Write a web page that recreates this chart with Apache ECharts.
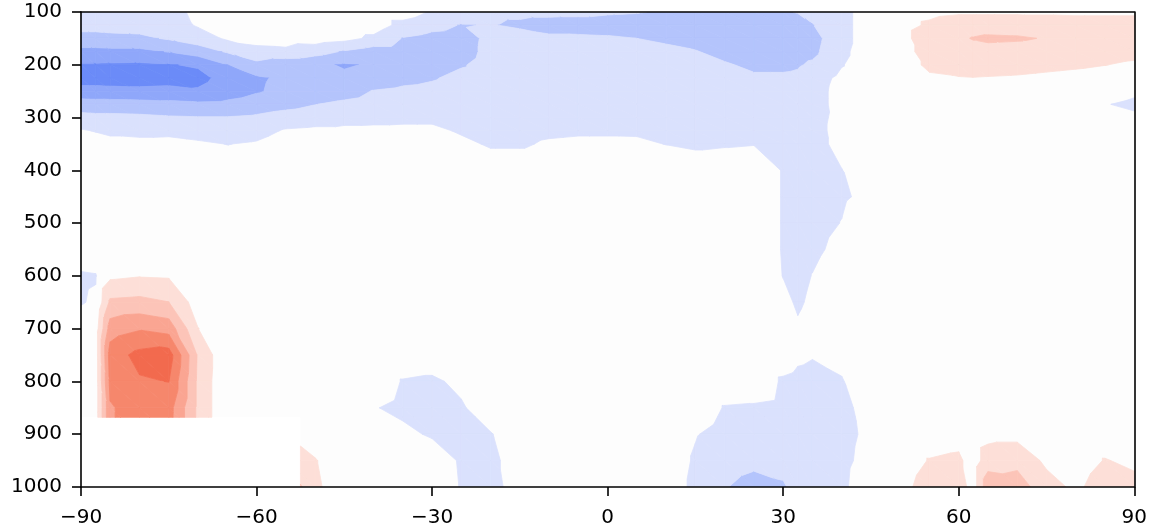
<!DOCTYPE html>
<html>
<head>
<meta charset="utf-8">
<script src="https://cdn.jsdelivr.net/npm/echarts@6/dist/echarts.min.js"></script>
<style>
html,body{margin:0;padding:0;background:#ffffff;}
#chart{width:1150px;height:528px;}
</style>
</head>
<body>
<div id="chart"></div>
<script>
// ---- grid coordinates (latitude columns, pressure rows) ----
const lats = [-90,-87.5,-85,-80,-75,-70,-65,-60,-55,-50,-45,-40,-35,-30,-25,-20,-15,-10,-5,0,5,10,15,20,25,30,32.5,35,40,45,50,55,60,62.5,65,70,75,80,85,90];
const pressures = [100,125,150,175,200,225,250,275,300,325,350,400,450,500,550,600,650,700,750,800,850,900,950,1000];

// ---- field values, one array per pressure level (columns follow lats) ----
const p100  = [-1.0,-1.0,-1.0,-1.0,-0.8,-0.3,0,0,0,0,0,0,0,-0.6,-0.9,-1.3,-1.3,-1.3,-1.3,-1.4,-1.45,-1.6,-1.7,-1.8,-1.8,-1.6,-1.45,-1.25,-0.8,0,0,0.2,0.35,0.35,0.35,0.35,0.35,0.3,0.3,0.3];
const p125  = [-1.2,-1.2,-1.15,-1.1,-1.0,-0.4,0,0,0,0,0,0,-0.8,-1.2,-1.55,-1.45,-1.65,-1.8,-1.85,-1.85,-1.9,-2.0,-2.05,-2.1,-2.15,-2.0,-1.9,-1.55,-0.8,0,0,0.7,1.1,1.1,1.1,1.1,1.0,1.0,1.0,1.0];
const p150  = [-1.8,-1.8,-1.75,-1.7,-1.4,-1.0,-0.35,-0.2,-0.1,0,-0.2,-0.7,-1.55,-1.8,-1.9,-1.25,-1.1,-1.35,-1.35,-1.4,-1.5,-1.65,-1.85,-2.0,-2.1,-2.05,-2.0,-1.86,-0.8,0,0,1.3,1.35,1.55,1.65,1.6,1.45,1.2,1.1,1.0];
const p175  = [-2.8,-2.8,-2.75,-2.75,-2.45,-2.0,-1.4,-0.75,-0.7,-1.1,-1.6,-2.0,-2.0,-2.1,-1.9,-1.2,-1.1,-1.1,-1.1,-1.15,-1.25,-1.3,-1.45,-1.8,-2.0,-1.95,-1.85,-1.75,-0.7,0,0,1.0,1.2,1.2,1.2,1.15,1.1,1.0,0.9,0.8];
const p200  = [-3.6,-3.6,-3.62,-3.65,-3.55,-3.4,-2.5,-1.8,-2.2,-2.3,-2.6,-2.4,-2.1,-2.0,-1.6,-1.1,-1.0,-1.0,-1.0,-1.05,-1.1,-1.15,-1.2,-1.4,-1.7,-1.7,-1.6,-1.35,-0.55,0,0,0.7,0.9,0.9,0.9,0.85,0.75,0.65,0.52,0.35];
const p225  = [-3.9,-3.9,-3.9,-3.9,-3.85,-3.75,-3.2,-2.65,-2.3,-2.3,-2.3,-2.1,-1.8,-1.6,-1.2,-1.0,-0.95,-0.95,-0.95,-1.0,-1.0,-1.05,-1.1,-1.2,-1.35,-1.35,-1.3,-0.9,-0.3,0,0,0.35,0.45,0.48,0.45,0.4,0.3,0.2,0.1,0];
const p250  = [-3.2,-3.2,-3.25,-3.3,-3.25,-3.4,-3.0,-2.6,-2.2,-2.1,-1.9,-1.45,-1.3,-1.2,-0.95,-0.9,-0.9,-0.9,-0.9,-0.95,-0.95,-1.0,-1.0,-1.05,-1.1,-1.1,-1.1,-0.85,-0.2,0,0,0,0,0,0,0,0,0,0,-0.3];
const p275  = [-2.0,-2.05,-2.05,-2.1,-2.2,-2.3,-2.25,-2.0,-1.8,-1.52,-1.3,-1.1,-1.0,-0.95,-0.8,-0.85,-0.85,-0.85,-0.85,-0.9,-0.9,-0.9,-0.95,-0.95,-1.0,-1.0,-1.0,-0.85,-0.2,0,0,0,0,0,0,0,0,0,-0.45,-0.7];
const p300  = [-1.2,-1.25,-1.25,-1.3,-1.4,-1.45,-1.45,-1.35,-1.1,-0.95,-0.8,-0.75,-0.7,-0.7,-0.7,-0.8,-0.8,-0.75,-0.75,-0.75,-0.8,-0.8,-0.85,-0.85,-0.9,-0.9,-0.9,-0.8,-0.25,0,0,0,0,0,0,0,0,0,0,-0.3];
const p325  = [-0.4,-0.55,-0.7,-0.8,-0.75,-0.9,-1.0,-0.85,-0.4,-0.3,-0.3,-0.3,-0.3,-0.3,-0.6,-0.75,-0.75,-0.65,-0.6,-0.6,-0.62,-0.7,-0.75,-0.75,-0.75,-0.8,-0.85,-0.8,-0.2,0,0,0,0,0,0,0,0,0,0,0];
const p350  = [0,-0.1,-0.2,-0.2,-0.2,-0.35,-0.52,-0.4,0,0,0,0,0,0,-0.3,-0.6,-0.6,-0.4,-0.35,-0.35,-0.35,-0.52,-0.65,-0.58,-0.53,-0.65,-0.8,-0.8,-0.25,0,0,0,0,0,0,0,0,0,0,0];
const p400  = [0,0,0,0,0,0,0,0,0,0,0,0,0,0,0,0,0,0,0,0,0,0,0,0,0,-0.55,-0.8,-0.8,-0.52,0,0,0,0,0,0,0,0,0,0,0];
const p450  = [0,0,0,0,0,0,0,0,0,0,0,0,0,0,0,0,0,0,0,0,0,0,0,0,0,-0.55,-0.8,-0.8,-0.6,-0.3,0,0,0,0,0,0,0,0,0,0];
const p500  = [0,0,0,0,0,0,0,0,0,0,0,0,0,0,0,0,0,0,0,0,0,0,0,0,0,-0.55,-0.8,-0.75,-0.48,0,0,0,0,0,0,0,0,0,0,0];
const p550  = [0,0,0,0,0,0,0,0,0,0,0,0,0,0,0,0,0,0,0,0,0,0,0,0,0,-0.55,-0.75,-0.65,-0.3,0,0,0,0,0,0,0,0,0,0,0];
const p600  = [-0.6,-0.55,0.3,0.45,0.4,0.1,0,0,0,0,0,0,0,0,0,0,0,0,0,0,0,0,0,0,0,-0.52,-0.7,-0.48,-0.1,0,0,0,0,0,0,0,0,0,0,0];
const p650  = [-0.55,-0.4,1.7,1.8,1.52,0,0,0,0,0,0,0,0,0,0,0,0,0,0,0,0,0,0,0,0,-0.3,-0.6,-0.37,0,0,0,0,0,0,0,0,0,0,0,0];
const p700  = [0,0,3.0,3.4,3.1,0.52,0,0,0,0,0,0,0,0,0,0,0,0,0,0,0,0,0,0,0,0,-0.4,-0.2,0,0,0,0,0,0,0,0,0,0,0,0];
const p750  = [0,0,4.0,4.8,5.0,1.4,-0.4,0,0,0,0,0,0,0,0,0,0,0,0,0,0,0,0,0,0,-0.1,-0.35,-0.45,-0.3,0,0,0,0,0,0,0,0,0,0,0];
const p800  = [0,0,3.8,4.4,4.52,1.3,-0.4,0,0,0,0,0,-0.55,-0.65,-0.3,0,0,0,0,0,0,0,0,0,0,-0.6,-0.7,-0.75,-0.55,0,0,0,0,0,0,0,0,0,0,0];
const p850  = [0,0,3.4,4.0,3.9,1.3,-0.4,0,0,0,0,-0.45,-0.7,-0.75,-0.6,0,0,0,0,0,0,0,0,-0.55,-0.6,-0.7,-0.75,-0.8,-0.7,-0.2,0,0,0,0,0,0,0,0,0,0];
const p900  = [0,0,3.4,4.0,3.8,1.3,-0.4,0,0.5,0.1,0,0,-0.3,-0.6,-0.8,-0.55,0,0,0,0,0,0,-0.45,-0.8,-0.9,-0.9,-0.85,-0.8,-0.75,-0.3,0,0,0.1,0,0.2,0.2,0,0,0,0];
const p950  = [0,0,0,0,0,0,0,0,1.45,0.55,0,0,0,0,-0.6,-0.7,-0.1,0,0,0,0,0,-0.6,-1.1,-1.3,-1.2,-1.0,-0.9,-0.7,-0.2,0,0.55,0.7,0,1.0,1.2,0.3,0,0.55,0.3];
const p1000 = [0,0,0,0,0,0,0,0,2.6,0.66,0,0,0,0,-0.55,-0.8,-0.1,0,0,0,0,0,-0.7,-1.45,-1.8,-1.6,-1.2,-1.0,-0.65,0,0.2,0.9,1.1,0,2.2,2.0,0.9,0.3,1.0,0.8];

const fieldRows = [p100,p125,p150,p175,p200,p225,p250,p275,p300,p325,p350,p400,p450,p500,p550,p600,p650,p700,p750,p800,p850,p900,p950,p1000];

// masked (no data) corner: latitudes south of maskLat and pressures above maskP
const maskLat = -52.5;
const maskP = 868;

// contour levels and tick labels
const levelBounds = [-3.5,-2.5,-1.5,-0.5,0.5,1.5,2.5,3.5,4.5];
const xTicks = [-90,-60,-30,0,30,60,90];
const yTicks = [100,200,300,400,500,600,700,800,900,1000];

// ---- styles ----
const bandColors = ['#6b8bf8','#8fa7fa','#b4c4fc','#dae1fd','#fdfdfd','#fddfd8','#fcc4b8','#faa592','#f6876c','#f26a4e'];
const zeroBand = 4;

fieldRows.forEach(function (r, k) {
  if (r.length !== lats.length) throw new Error('row ' + pressures[k] + ' has ' + r.length + ' values');
});

function clip(poly, f) {
  const out = [];
  const n = poly.length;
  for (let a = 0; a < n; a++) {
    const P = poly[a], Q = poly[(a + 1) % n];
    const fp = f(P), fq = f(Q);
    if (fp >= 0) out.push(P);
    if ((fp >= 0) !== (fq >= 0)) {
      const t = fp / (fp - fq);
      out.push({x: P.x + t * (Q.x - P.x), y: P.y + t * (Q.y - P.y), v: P.v + t * (Q.v - P.v)});
    }
  }
  return out;
}

const cells = [];
for (let j = 0; j < pressures.length - 1; j++) {
  for (let i = 0; i < lats.length - 1; i++) {
    cells.push([lats[i], pressures[j], i, j]);
  }
}

function renderCell(params, api) {
  const i = api.value(2), j = api.value(3);
  const c = [
    {x: lats[i],     y: pressures[j],     v: fieldRows[j][i]},
    {x: lats[i + 1], y: pressures[j],     v: fieldRows[j][i + 1]},
    {x: lats[i + 1], y: pressures[j + 1], v: fieldRows[j + 1][i + 1]},
    {x: lats[i],     y: pressures[j + 1], v: fieldRows[j + 1][i]}
  ];
  const tris = [[c[0], c[1], c[2]], [c[0], c[2], c[3]]];
  const children = [];
  tris.forEach(function (tri) {
    for (let k = 0; k < bandColors.length; k++) {
      if (k === zeroBand) continue;
      let poly = tri;
      if (k > 0) {
        const lo = levelBounds[k - 1];
        poly = clip(poly, function (pt) { return pt.v - lo; });
        if (poly.length < 3) continue;
      }
      if (k < bandColors.length - 1) {
        const hi = levelBounds[k];
        poly = clip(poly, function (pt) { return hi - pt.v; });
        if (poly.length < 3) continue;
      }
      const pieces = [];
      const pa = clip(poly, function (pt) { return maskP - pt.y; });
      if (pa.length >= 3) pieces.push(pa);
      let pb = clip(poly, function (pt) { return pt.y - maskP; });
      if (pb.length >= 3) {
        pb = clip(pb, function (pt) { return pt.x - maskLat; });
        if (pb.length >= 3) pieces.push(pb);
      }
      pieces.forEach(function (pc) {
        children.push({
          type: 'polygon',
          shape: {points: pc.map(function (pt) { return api.coord([pt.x, pt.y]); })},
          style: {fill: bandColors[k], stroke: bandColors[k], lineWidth: 0.8}
        });
      });
    }
  });
  return {type: 'group', children: children};
}

function renderMask(params, api) {
  const a = api.coord([api.value(0), api.value(1)]);
  const b = api.coord([api.value(2), api.value(3)]);
  return {
    type: 'rect',
    shape: {x: Math.min(a[0], b[0]), y: Math.min(a[1], b[1]), width: Math.abs(b[0] - a[0]), height: Math.abs(b[1] - a[1])},
    style: {fill: '#ffffff'}
  };
}

const chart = echarts.init(document.getElementById('chart'), null, {renderer: 'canvas'});
const axisFont = {color: '#000', fontSize: 20, fontFamily: 'DejaVu Sans'};
const lineStyle = {color: '#000', width: 1.6};
function fmt(v) { return v < 0 ? '\u2212' + Math.abs(v) : String(v); }

chart.setOption({
  animation: false,
  backgroundColor: '#ffffff',
  grid: {left: 81, right: 15, top: 12, bottom: 39, containLabel: false, show: true, backgroundColor: bandColors[zeroBand], borderWidth: 0},
  xAxis: [
    {
      type: 'value', min: xTicks[0], max: xTicks[xTicks.length - 1], interval: 30, position: 'bottom', z: 10,
      axisLine: {show: true, onZero: false, lineStyle: lineStyle},
      axisTick: {show: true, inside: false, length: 9, lineStyle: lineStyle},
      axisLabel: Object.assign({margin: 21, formatter: fmt}, axisFont),
      splitLine: {show: false}
    },
    {
      type: 'value', min: xTicks[0], max: xTicks[xTicks.length - 1], position: 'top', z: 10,
      axisLine: {show: true, onZero: false, lineStyle: lineStyle},
      axisTick: {show: false}, axisLabel: {show: false}, splitLine: {show: false}
    }
  ],
  yAxis: [
    {
      type: 'value', inverse: true, min: yTicks[0], max: yTicks[yTicks.length - 1], interval: 100, position: 'left', z: 10,
      axisLine: {show: true, onZero: false, lineStyle: lineStyle},
      axisTick: {show: true, inside: false, length: 9, lineStyle: lineStyle},
      axisLabel: Object.assign({margin: 19, formatter: fmt}, axisFont),
      splitLine: {show: false}
    },
    {
      type: 'value', inverse: true, min: yTicks[0], max: yTicks[yTicks.length - 1], position: 'right', z: 10,
      axisLine: {show: true, onZero: false, lineStyle: lineStyle},
      axisTick: {show: false}, axisLabel: {show: false}, splitLine: {show: false}
    }
  ],
  series: [
    {
      type: 'custom',
      xAxisIndex: 0, yAxisIndex: 0,
      silent: true, clip: true,
      renderItem: renderMask,
      encode: {x: [0, 2], y: [1, 3]},
      data: [[xTicks[0], maskP, maskLat, yTicks[yTicks.length - 1]]]
    },
    {
      type: 'custom',
      xAxisIndex: 0, yAxisIndex: 0,
      silent: true, clip: true,
      renderItem: renderCell,
      encode: {x: 0, y: 1},
      data: cells
    }
  ]
});
</script>
</body>
</html>
